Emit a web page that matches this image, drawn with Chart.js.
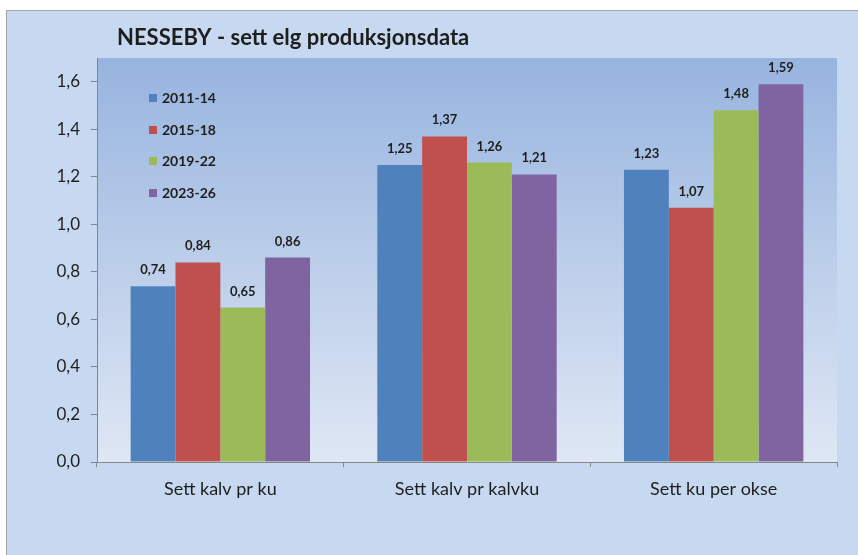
<!DOCTYPE html>
<html>
<head>
<meta charset="utf-8">
<script src="https://cdn.jsdelivr.net/npm/chart.js@4/dist/chart.umd.min.js"></script>
<style>
  html, body { margin: 0; padding: 0; background: #ffffff; }
  #wrap { position: absolute; left: 0; top: 0; width: 858px; height: 555px; }
</style>
</head>
<body>
<div id="wrap"><canvas id="c" width="858" height="555"></canvas></div>
<script>
const titleText = 'NESSEBY - sett elg produksjonsdata';
const categories = ['Sett kalv pr ku', 'Sett kalv pr kalvku', 'Sett ku per okse'];
const seriesNames = ['2011-14', '2015-18', '2019-22', '2023-26'];
const s2011 = [0.74, 1.25, 1.23];
const s2015 = [0.84, 1.37, 1.07];
const s2019 = [0.65, 1.26, 1.48];
const s2023 = [0.86, 1.21, 1.59];
const seriesColors = ['#4f81bd', '#c0504d', '#9bbb59', '#8064a2'];
const yMin = 0, yMax = 1.7, yStep = 0.2;

const FONT = 'Lato, "Open Sans", sans-serif';
const TXT = '#1e1e1e';

const fmt = v => v.toFixed(2).replace('.', ',');

const bgPlugin = {
  id: 'bg',
  beforeDraw(chart) {
    const ctx = chart.ctx, a = chart.chartArea;
    ctx.save();
    ctx.fillStyle = '#ffffff';
    ctx.fillRect(0, 0, chart.width, chart.height);
    ctx.fillStyle = '#c6d9f0';
    ctx.fillRect(6, 10, chart.width - 6, chart.height - 10);
    ctx.strokeStyle = '#a6a6a6';
    ctx.lineWidth = 1;
    ctx.strokeRect(6.5, 10.5, chart.width, chart.height);
    const g = ctx.createLinearGradient(0, a.top, 0, a.bottom);
    g.addColorStop(0, '#97b4df');
    g.addColorStop(1, '#dfe7f4');
    ctx.fillStyle = g;
    ctx.fillRect(a.left, a.top, a.right - a.left, a.bottom - a.top);
    ctx.restore();
  }
};

const overlayPlugin = {
  id: 'overlay',
  afterDatasetsDraw(chart) {
    const ctx = chart.ctx;
    ctx.save();
    // title
    ctx.fillStyle = TXT;
    ctx.font = 'bold 22px ' + FONT;
    ctx.textAlign = 'left';
    ctx.textBaseline = 'middle';
    ctx.fillText(titleText, 117, 38);
    // data labels
    ctx.font = 'bold 13px ' + FONT;
    ctx.textAlign = 'center';
    ctx.textBaseline = 'alphabetic';
    chart.data.datasets.forEach((ds, i) => {
      const meta = chart.getDatasetMeta(i);
      meta.data.forEach((bar, j) => {
        ctx.fillText(fmt(ds.data[j]), bar.x, bar.y - 12);
      });
    });
    // legend
    const ys = [98, 130, 161, 193];
    ctx.font = 'bold 14px ' + FONT;
    ctx.textAlign = 'left';
    ctx.textBaseline = 'middle';
    chart.data.datasets.forEach((ds, i) => {
      ctx.fillStyle = ds.backgroundColor;
      ctx.fillRect(149, ys[i] - 4, 8, 8);
      ctx.fillStyle = TXT;
      ctx.fillText(ds.label, 162, ys[i]);
    });
    ctx.restore();
  }
};

const seriesData = [s2011, s2015, s2019, s2023];
new Chart(document.getElementById('c'), {
  type: 'bar',
  data: {
    labels: categories,
    datasets: seriesNames.map((n, i) => ({
      label: n,
      data: seriesData[i],
      backgroundColor: seriesColors[i],
      borderWidth: 0,
      barPercentage: 1,
      categoryPercentage: 4 / 5.5
    }))
  },
  options: {
    responsive: false,
    animation: false,
    devicePixelRatio: 1,
    layout: { padding: { top: 58, right: 21, left: 0, bottom: 0 } },
    plugins: { legend: { display: false }, title: { display: false }, tooltip: { enabled: false } },
    scales: {
      x: {
        afterFit(s) { s.height = 93; },
        grid: { display: true, drawOnChartArea: false, drawTicks: true, tickLength: 5, color: '#868686', offset: true },
        border: { display: true, color: '#868686', width: 1 },
        ticks: { color: TXT, font: { family: FONT, size: 18 }, padding: 11 }
      },
      y: {
        min: yMin, max: yMax,
        afterFit(s) { s.width = 97; },
        afterBuildTicks(s) {
          const t = [];
          for (let v = yMin; v <= yMax + 1e-9; v += yStep) t.push({ value: Math.round(v * 10) / 10 });
          s.ticks = t;
        },
        grid: { display: true, drawOnChartArea: false, drawTicks: true, tickLength: 6, color: '#868686' },
        border: { display: true, color: '#868686', width: 1 },
        ticks: { color: TXT, font: { family: FONT, size: 17 }, padding: 11,
          callback: v => v.toFixed(1).replace('.', ',') }
      }
    }
  },
  plugins: [bgPlugin, overlayPlugin]
});
</script>
</body>
</html>
